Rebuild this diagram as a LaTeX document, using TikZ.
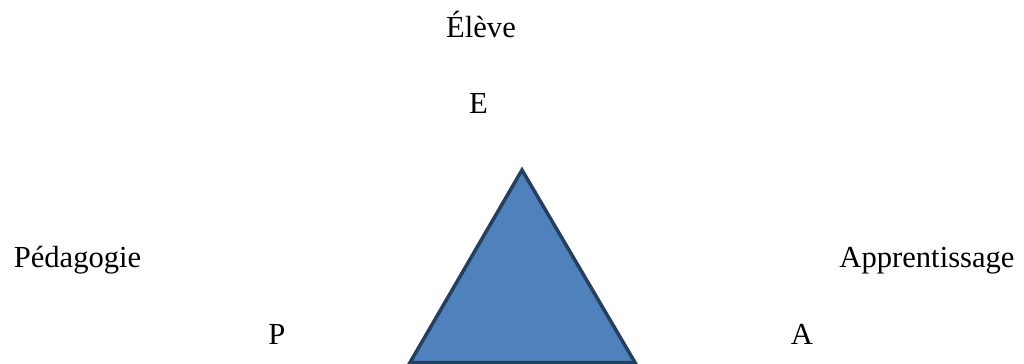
\documentclass[tikz,border=0pt]{standalone}
\usepackage{fontspec}
\setmainfont{Liberation Serif}
\definecolor{trifill}{HTML}{4F81BD}
\definecolor{triline}{HTML}{243F60}
\begin{document}
\begin{tikzpicture}[x=0.5pt,y=-0.5pt,
  lbl/.style={anchor=base,inner sep=0pt,font=\fontsize{15.3}{18}\selectfont}]
\useasboundingbox (0,0) rectangle (1024,364);
\node[lbl] (eleve) at (481,37) {Élève};
\node[lbl] (e) at (478.5,113) {E};
\node[lbl] (peda) at (77.5,267) {Pédagogie};
\node[lbl] (p) at (277,344) {P};
\node[lbl] (appr) at (927,267) {Apprentissage};
\node[lbl] (a) at (802,344) {A};
\coordinate (top) at (522,170);
\coordinate (bl) at (410,362.5);
\coordinate (br) at (635,362.5);
\draw[fill=trifill,draw=triline,line width=1.75pt,line join=miter] (top) -- (br) -- (bl) -- cycle;
\end{tikzpicture}
\end{document}
